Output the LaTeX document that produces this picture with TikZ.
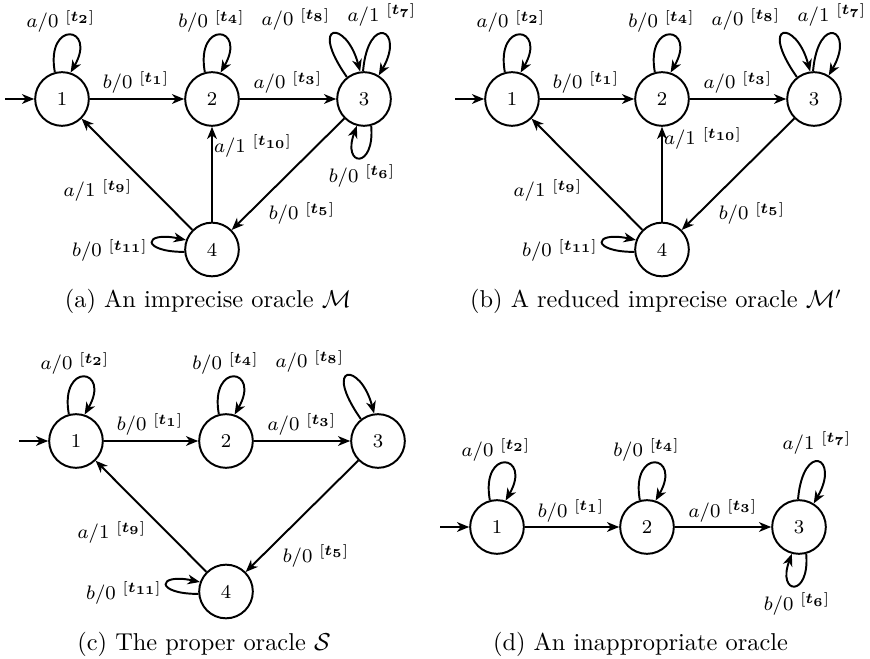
\documentclass[tikz,border=0pt]{standalone}
\usepackage{amsmath,amssymb}
\usetikzlibrary{arrows.meta}
\newcommand{\trlab}[3]{$#1/#2\ {}^{[\boldsymbol{t_{#3}}]}$}
\tikzset{
  st/.style={circle, draw, line width=0.8pt, minimum size=22pt, inner sep=0pt, font=\footnotesize},
  tr/.style={line width=0.8pt, -{Stealth[length=5pt,width=4pt,inset=1.5pt]}},
  lab/.style={anchor=base, font=\footnotesize, inner sep=0pt},
  captxt/.style={anchor=base, font=\normalsize, inner sep=0pt}
}
\begin{document}
\begin{tikzpicture}[x=0.41pt,y=-0.41pt]
\useasboundingbox (0,0) rectangle (870,659);
% ---------------- (a)
\begin{scope}
\node[st] (a1) at (62,99) {1};
\node[st] (a2) at (212,99) {2};
\node[st] (a3) at (364,99) {3};
\node[st] (a4) at (212,249.5) {4};
\coordinate (a0) at (5,99);
\draw[tr] (a0) -- (a1);
\draw[tr] (a1) -- (a2) node[lab, at={(136,89)}] (al1) {\trlab{b}{0}{1}};
\draw[tr] (a1.105) .. controls +(100:22pt) and +(60:22pt) .. (a1.72) node[lab, at={(61,28)}] (al2) {\trlab{a}{0}{2}};
\draw[tr] (a2) -- (a3) node[lab, at={(288,89)}] (al3) {\trlab{a}{0}{3}};
\draw[tr] (a2.105) .. controls +(100:22pt) and +(60:22pt) .. (a2.72) node[lab, at={(211.5,28)}] (al4) {\trlab{b}{0}{4}};
\draw[tr] (a3) -- (a4) node[lab, at={(302,220)}] (al5) {\trlab{b}{0}{5}};
\draw[tr] (a3.-75) .. controls +(-85:18pt) and +(-110:18pt) .. (a3.-105) node[lab, at={(362,182.7)}] (al6) {\trlab{b}{0}{6}};
\draw[tr] (a3.92) .. controls +(85:24pt) and +(60:22pt) .. (a3.58) node[lab, at={(382,21.7)}] (al7) {\trlab{a}{1}{7}};
\draw[tr] (a3.128) .. controls +(125:28pt) and +(105:22pt) .. (a3.98) node[lab, at={(296,26)}] (al8) {\trlab{a}{0}{8}};
\draw[tr] (a4) -- (a1) node[lab, at={(98,197)}] (al9) {\trlab{a}{1}{9}};
\draw[tr] (a4) -- (a2) node[lab, at={(253,152.7)}] (al10) {\trlab{a}{1}{10}};
\draw[tr] (a4.185) .. controls +(180:18pt) and +(168:18pt) .. (a4.160) node[lab, at={(110,257)}] (al11) {\trlab{b}{0}{11}};
\node[captxt] (acap) at (208,308) {(a) An imprecise oracle $\mathcal{M}$};
\end{scope}
% ---------------- (b)
\begin{scope}[shift={(450,0)}]
\node[st] (b1) at (62,99) {1};
\node[st] (b2) at (212,99) {2};
\node[st] (b3) at (364,99) {3};
\node[st] (b4) at (212,249.5) {4};
\coordinate (b0) at (5,99);
\draw[tr] (b0) -- (b1);
\draw[tr] (b1) -- (b2) node[lab, at={(136,89)}] (bl1) {\trlab{b}{0}{1}};
\draw[tr] (b1.105) .. controls +(100:22pt) and +(60:22pt) .. (b1.72) node[lab, at={(61,28)}] (bl2) {\trlab{a}{0}{2}};
\draw[tr] (b2) -- (b3) node[lab, at={(288,89)}] (bl3) {\trlab{a}{0}{3}};
\draw[tr] (b2.105) .. controls +(100:22pt) and +(60:22pt) .. (b2.72) node[lab, at={(211.5,28)}] (bl4) {\trlab{b}{0}{4}};
\draw[tr] (b3) -- (b4) node[lab, at={(302,220)}] (bl5) {\trlab{b}{0}{5}};
\draw[tr] (b3.92) .. controls +(85:24pt) and +(60:22pt) .. (b3.58) node[lab, at={(382,21.7)}] (bl7) {\trlab{a}{1}{7}};
\draw[tr] (b3.128) .. controls +(125:28pt) and +(105:22pt) .. (b3.98) node[lab, at={(296,26)}] (bl8) {\trlab{a}{0}{8}};
\draw[tr] (b4) -- (b1) node[lab, at={(98,197)}] (bl9) {\trlab{a}{1}{9}};
\draw[tr] (b4) -- (b2) node[lab, at={(253,145)}] (bl10) {\trlab{a}{1}{10}};
\draw[tr] (b4.185) .. controls +(180:18pt) and +(168:18pt) .. (b4.160) node[lab, at={(110,257)}] (bl11) {\trlab{b}{0}{11}};
\node[captxt] (bcap) at (206,308) {(b) A reduced imprecise oracle $\mathcal{M}'$};
\end{scope}
% ---------------- (c)
\begin{scope}[shift={(14,342)}]
\node[st] (c1) at (62,99) {1};
\node[st] (c2) at (212,99) {2};
\node[st] (c3) at (364,99) {3};
\node[st] (c4) at (212,249.5) {4};
\coordinate (c0) at (5,99);
\draw[tr] (c0) -- (c1);
\draw[tr] (c1) -- (c2) node[lab, at={(136,89)}] (cl1) {\trlab{b}{0}{1}};
\draw[tr] (c1.105) .. controls +(100:22pt) and +(60:22pt) .. (c1.72) node[lab, at={(61,28)}] (cl2) {\trlab{a}{0}{2}};
\draw[tr] (c2) -- (c3) node[lab, at={(288,89)}] (cl3) {\trlab{a}{0}{3}};
\draw[tr] (c2.105) .. controls +(100:22pt) and +(60:22pt) .. (c2.72) node[lab, at={(211.5,28)}] (cl4) {\trlab{b}{0}{4}};
\draw[tr] (c3) -- (c4) node[lab, at={(302,220)}] (cl5) {\trlab{b}{0}{5}};
\draw[tr] (c3.128) .. controls +(125:28pt) and +(105:22pt) .. (c3.98) node[lab, at={(296,26)}] (cl8) {\trlab{a}{0}{8}};
\draw[tr] (c4) -- (c1) node[lab, at={(98,197)}] (cl9) {\trlab{a}{1}{9}};
\draw[tr] (c4.185) .. controls +(180:18pt) and +(168:18pt) .. (c4.160) node[lab, at={(110,257)}] (cl11) {\trlab{b}{0}{11}};
\node[captxt] (ccap) at (190,308) {(c) The proper oracle $\mathcal{S}$};
\end{scope}
% ---------------- (d)
\begin{scope}[shift={(435,428)}]
\node[st] (d1) at (62,99) {1};
\node[st] (d2) at (212,99) {2};
\node[st] (d3) at (364,99) {3};
\coordinate (d0) at (5,99);
\draw[tr] (d0) -- (d1);
\draw[tr] (d1) -- (d2) node[lab, at={(136,89)}] (dl1) {\trlab{b}{0}{1}};
\draw[tr] (d1.105) .. controls +(100:22pt) and +(60:22pt) .. (d1.72) node[lab, at={(61,28)}] (dl2) {\trlab{a}{0}{2}};
\draw[tr] (d2) -- (d3) node[lab, at={(288,89)}] (dl3) {\trlab{a}{0}{3}};
\draw[tr] (d2.105) .. controls +(100:22pt) and +(60:22pt) .. (d2.72) node[lab, at={(211.5,28)}] (dl4) {\trlab{b}{0}{4}};
\draw[tr] (d3.-75) .. controls +(-85:18pt) and +(-110:18pt) .. (d3.-105) node[lab, at={(362,182.7)}] (dl6) {\trlab{b}{0}{6}};
\draw[tr] (d3.92) .. controls +(85:24pt) and +(60:22pt) .. (d3.58) node[lab, at={(382,21.7)}] (dl7) {\trlab{a}{1}{7}};
\node[captxt] (dcap) at (205.5,222) {(d) An inappropriate oracle};
\end{scope}
\end{tikzpicture}
\end{document}
